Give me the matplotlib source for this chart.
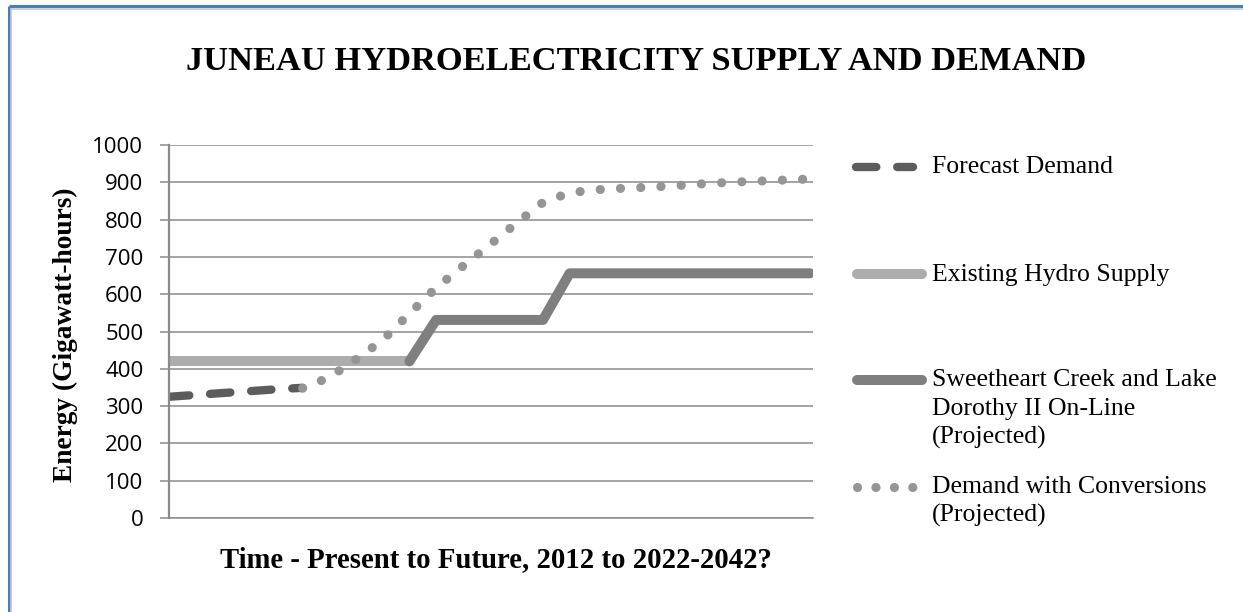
import matplotlib

matplotlib.use("Agg")
import matplotlib.pyplot as plt

W, H = 1243, 612

periods = list(range(25))

forecast_demand = [325, 330, 335, 340, 345, 349]
existing_hydro = [420, 420, 420, 420, 420, 420, 420, 420, 420, 420]
sweetheart = [420, 531, 531, 531, 531, 531, 656, 656, 656, 656,
              656, 656, 656, 656, 656, 656]
demand_conv = [348, 377, 425, 477, 548, 617, 675, 732, 790, 846,
               872, 880, 884, 887, 891, 896, 900, 903, 906, 909]

y_ticks = [0, 100, 200, 300, 400, 500, 600, 700, 800, 900, 1000]

legend_labels = [
    "Forecast Demand",
    "Existing Hydro Supply",
    "Sweetheart Creek and Lake\nDorothy II On-Line\n(Projected)",
    "Demand with Conversions\n(Projected)",
]

title = "JUNEAU HYDROELECTRICITY SUPPLY AND DEMAND"
x_title = "Time - Present to Future, 2012 to 2022-2042?"
y_title = "Energy (Gigawatt-hours)"

C_FORECAST = "#5c5c5c"
C_EXISTING = "#adadad"
C_SWEET = "#7f7f7f"
C_CONV = "#959595"
C_GRID = "#8a8a8a"

DASH = (0, (2.44, 2.5))
DOT = (0, (0.01, 2.2))
SERIF = "Liberation Serif"

fig = plt.figure(figsize=(W / 100, H / 100), dpi=100)
fig.patch.set_facecolor("white")

# overlay in pixel coordinates for frame, titles and legend
lax = fig.add_axes([0, 0, 1, 1])
lax.set_xlim(0, W)
lax.set_ylim(H, 0)
lax.axis("off")

ax = fig.add_axes([169 / W, (H - 518) / H, 644 / W, 373 / H])
ax.patch.set_alpha(0)

ax.plot(periods[:6], forecast_demand, color=C_FORECAST, lw=6, ls=DASH,
        dash_capstyle="round")
ax.plot(periods[:10], existing_hydro, color=C_EXISTING, lw=7.2,
        solid_capstyle="round")
ax.plot(periods[9:], sweetheart, color=C_SWEET, lw=7.2,
        solid_capstyle="round", solid_joinstyle="round")
ax.plot(periods[5:], demand_conv, color=C_CONV, lw=6.6, ls=DOT,
        dash_capstyle="round")

ax.set_xlim(0, 24.11)
ax.set_ylim(0, 1000)
ax.set_yticks(y_ticks)
ax.set_xticks([])
ax.yaxis.grid(True, color=C_GRID, lw=1.1)
ax.set_axisbelow(True)
for side in ("top", "right"):
    ax.spines[side].set_visible(False)
ax.spines["left"].set_color(C_GRID)
ax.spines["left"].set_linewidth(1.6)
ax.spines["bottom"].set_color(C_GRID)
ax.spines["bottom"].set_linewidth(1.1)
ax.tick_params(axis="y", length=6.5, width=1.1, color=C_GRID, pad=12,
               labelsize=16)
for lbl in ax.get_yticklabels():
    lbl.set_fontfamily("Open Sans")

# frame
lax.plot([9, W], [6, 6], color="#4a7ebb", lw=2.2, solid_capstyle="butt")
lax.plot([9, W], [8.5, 8.5], color="#c8c8c8", lw=1.2, solid_capstyle="butt")
lax.plot([9, 9], [6, H], color="#4a7ebb", lw=2.2, solid_capstyle="butt")
lax.plot([11.5, 11.5], [8, H], color="#c8c8c8", lw=1.2, solid_capstyle="butt")

t_title = lax.text(636, 62, title, ha="center", va="center", family=SERIF,
                   fontweight="bold", fontsize=26)
t_x = lax.text(496, 560, x_title, ha="center", va="center", family=SERIF,
               fontweight="bold", fontsize=16)
t_y = lax.text(65, 335, y_title, ha="center", va="center", rotation=90,
               family=SERIF, fontweight="bold", fontsize=16)

# legend handles
lax.plot([856, 913], [167, 167], color=C_FORECAST, lw=6, ls=DASH,
         dash_capstyle="round")
lax.plot([857, 922], [274, 274], color=C_EXISTING, lw=7.2,
         solid_capstyle="round")
lax.plot([857, 922], [380, 380], color=C_SWEET, lw=7.2,
         solid_capstyle="round")
lax.plot([857, 913], [487, 487], color=C_CONV, lw=6.6, ls=(0, (0.01, 2.0)),
         dash_capstyle="round")

legend_tops = [167, 275, 380, 487]
legend_texts = []
for label, y0 in zip(legend_labels, legend_tops):
    for k, line in enumerate(label.split("\n")):
        legend_texts.append(lax.text(932, y0 + k * 28.5, line, ha="left",
                                     va="center", family=SERIF, fontsize=17))

fig.canvas.draw()
renderer = fig.canvas.get_renderer()


def fit(txt, target, vertical=False):
    bb = txt.get_window_extent(renderer)
    size = bb.height if vertical else bb.width
    txt.set_fontsize(txt.get_fontsize() * target / size)


fit(t_title, 900)
fit(t_x, 553)
fit(t_y, 296, vertical=True)
bb = legend_texts[0].get_window_extent(renderer)
scale = 181 / bb.width
for t in legend_texts:
    t.set_fontsize(t.get_fontsize() * scale)

fig.savefig("out.png", dpi=100)
